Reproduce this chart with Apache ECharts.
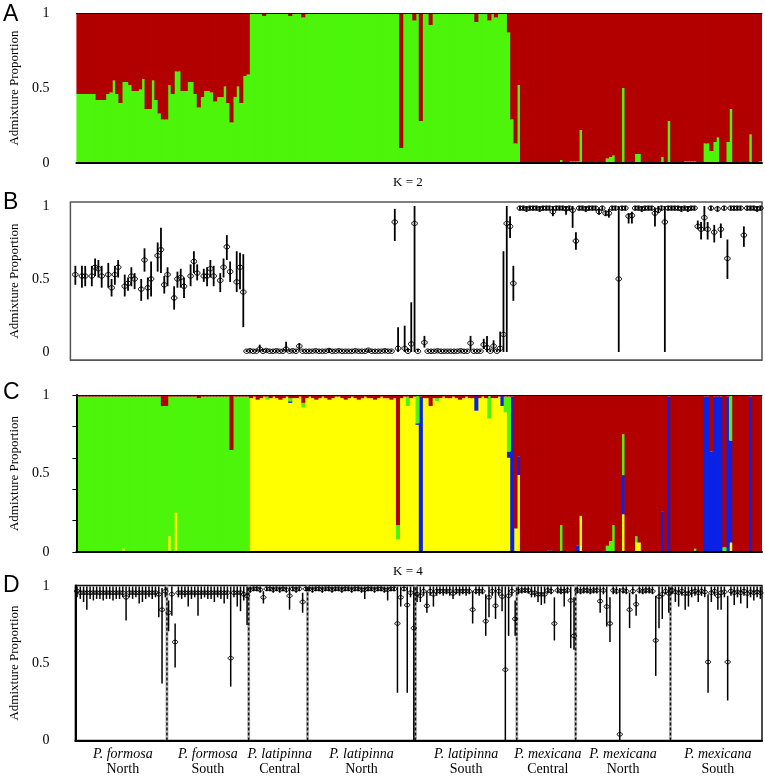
<!DOCTYPE html>
<html><head><meta charset="utf-8">
<script src="https://cdn.jsdelivr.net/npm/echarts@6/dist/echarts.min.js"></script>
<style>html,body{margin:0;padding:0;background:#fff}#c{width:765px;height:776px}</style>
</head><body><div id="c"></div>
<script>
// ---------- groups / labels ----------
const groupSpecies = ['P. formosa','P. formosa','P. latipinna','P. latipinna','P. latipinna','P. mexicana','P. mexicana','P. mexicana'];
const groupRegions = ['North','South','Central','North','South','Central','North','South'];
const groupSizes = [28,25,18,33,31,18,29,28];
const yTickLabels = [0, 0.5, 1];
const yTicksC = [0, 0.2, 0.4, 0.6, 0.8, 1];
const panelLetters = ['A','B','C','D'];
const kLabels = ['K = 2','K = 4'];
const yAxisTitle = 'Admixture Proportion';

// ---------- Panel A (K=2): green proportion per individual ----------
const aGreen = [
.46,.46,.46,.46,.46,.46,.42,.42,.42,.46,
.47,.55,.46,.40,.54,.54,.52,.48,.48,.49,
.56,.36,.36,.55,.42,.33,.29,.29,.52,.46,
.61,.61,.48,.48,.54,.54,.46,.37,.44,.48,
.48,.47,.41,.44,.44,.51,.40,.27,.44,.51,
.40,.58,.59,
1,1,1,1,.98,1,1,1,1,1,
1,1,.98,1,1,1,.97,1,1,1,
1,1,1,1,1,1,1,1,1,1,
1,1,1,1,1,1,1,1,1,1,
1,1,1,1,1,1,.10,1,1,1,
.95,1,.28,1,1,.92,1,1,1,1,
1,1,1,1,1,1,1,1,1,.94,
1,1,1,.95,1,.97,1,1,1,.87,
.29,.13,
.52,0,0,0,0,0,0,0,0,0,
0,0,0,.02,0,0,.01,.01,
.01,.22,0,0,0,0,0,0,0,.03,
.04,.05,0,0,.5,0,0,0,.06,.06,
0,0,0,0,0,0,.04,0,.28,
0,0,0,0,.01,.01,.01,.01,0,0,
.13,.13,.08,.14,.17,0,0,.14,.36,0,
0,0,0,0,.19,0,0,.01
];

// ---------- Panel B (K=2): point estimate and interval ----------
const bVal = [
null,.53,null,.52,.52,null,.52,.58,.57,.52,
null,.53,.44,.53,.58,null,.45,.47,.52,.50,
null,.43,.63,.44,.50,null,.66,.70,.46,.53,
null,.37,.50,.51,.45,null,.52,.62,.54,null,
.52,.52,.57,.52,null,.49,.58,.72,.55,null,
.48,.58,.41,
.005,.008,.005,.005,.02,.005,.01,.005,.005,.008,
.005,.005,.02,.005,.008,.005,.04,.005,.005,.005,
.005,.008,.005,.005,.005,.01,.005,.005,.008,.005,
.005,.005,.005,.008,.005,.005,.005,.012,.005,.005,
.005,.005,.008,.005,.005,.89,.025,null,.025,.005,
.055,.88,.005,null,.065,.005,.005,.005,.008,.005,
.005,.005,.005,.005,.005,.008,.005,.005,.06,.005,
.005,.005,.05,.03,.005,.04,.005,.025,.12,.88,
.86,.47,
null,.985,.985,.98,.985,.985,.985,.98,.985,.985,
.985,.96,.985,.985,.985,.98,.985,.97,.76,.985,
.985,.98,.985,.985,.985,.96,.985,.95,.95,.985,
.985,.50,.985,.985,.93,.935,.985,.985,.98,.985,
.985,.985,.95,.97,.985,.89,.985,.985,.985,.985,
.98,.985,.98,.985,.985,.86,.84,.92,.84,.985,
.82,.98,.84,.985,.64,.985,.985,.985,.985,.80,
.985,.985,.985,.98,.985
];
const bLow = [
null,.46,null,.44,.45,null,.45,.52,.51,.44,
null,.44,.38,.46,.51,null,.38,.42,.45,.43,
null,.35,.55,.36,.38,null,.55,.54,.40,.45,
null,.29,.44,.44,.37,null,.45,.54,.49,null,
.48,.45,.51,.45,null,.41,.51,.63,.48,null,
.41,.43,.17,
0,0,0,0,0,0,0,0,0,0,
0,0,0,0,0,0,.01,0,0,0,
0,0,0,0,0,0,0,0,0,0,
0,0,0,0,0,0,0,0,0,0,
0,0,0,0,0,.76,0,null,0,0,
0,0,0,null,.03,0,0,0,0,0,
0,0,0,0,0,0,0,0,.01,0,
0,0,.02,0,0,0,0,0,0,0,
.78,.35,
null,.97,.97,.96,.97,.97,.97,.96,.97,.97,
.97,.93,.97,.97,.97,.94,.97,.85,.70,.97,
.97,.96,.97,.97,.97,.94,.97,.93,.92,.97,
.97,0,.97,.97,.88,.88,.97,.97,.96,.97,
.97,.97,.86,.95,.97,0,.97,.97,.97,.97,
.96,.97,.96,.97,.97,.84,.77,.83,.77,.97,
.75,.96,.78,.97,.50,.97,.97,.97,.97,.72,
.97,.97,.97,.96,.97
];
const bHigh = [
null,.59,null,.59,.59,null,.59,.64,.63,.59,
null,.61,.50,.59,.63,null,.53,.51,.58,.54,
null,.50,.71,.51,.62,null,.75,.85,.52,.58,
null,.45,.55,.57,.51,null,.60,.69,.60,null,
.57,.58,.63,.59,null,.54,.64,.80,.62,null,
.69,.68,.67,
.015,.018,.015,.015,.05,.015,.02,.015,.015,.018,
.015,.015,.07,.015,.018,.015,.06,.015,.015,.015,
.015,.018,.015,.015,.015,.02,.015,.015,.018,.015,
.015,.015,.015,.018,.015,.015,.015,.022,.015,.015,
.015,.015,.018,.015,.015,.98,.17,null,.18,.025,
.34,1,.02,null,.11,.015,.015,.015,.018,.015,
.015,.015,.015,.015,.015,.018,.015,.015,.11,.015,
.015,.015,.09,.11,.015,.08,.015,.14,.69,1,
.93,.59,
null,1,1,1,1,1,1,1,1,1,
1,1,1,1,1,1,1,1,.82,1,
1,1,1,1,1,.98,1,.97,.98,1,
1,1,1,1,.95,.96,1,1,1,1,
1,1,.99,1,1,1,1,1,1,1,
1,1,1,1,1,.90,.89,1,.89,1,
.87,1,.88,1,.77,1,1,1,1,.86,
1,1,1,1,1
];

// ---------- Panel C (K=4): yellow, blue, green (red is the remainder) ----------
const cYellow = [
0,0,0,0,0,0,0,0,0,0,
0,0,0,0,.02,0,0,0,0,0,
0,0,0,0,0,0,0,0,.1,0,
.25,0,0,0,0,0,0,0,0,0,
0,0,0,0,0,0,0,0,0,0,
0,0,0,
.98,.99,.97,.98,.99,.97,.98,.99,.98,.97,
.98,.99,.95,.98,.98,.99,.92,.98,.99,.98,
.97,.98,.99,.98,.97,.98,.99,.99,.98,.97,
.98,.99,.98,.97,.98,.99,.98,.98,.97,.98,
.99,.98,.98,.97,.98,.08,.98,.99,.93,.98,
.99,.81,0,.98,.98,.93,.98,.96,.98,.99,
.98,.98,.99,.98,.97,.98,.99,.98,.98,.90,
.98,.99,.98,.85,.98,.98,.99,.93,.89,.60,
0,.15,
.49,0,0,0,0,0,0,0,0,0,
0,0,0,0,0,0,0,0,0,.23,
0,0,0,0,0,0,0,0,0,0,
0,0,.24,0,0,0,.06,.06,0,0,
0,0,0,0,0,0,0,0,0,0,
0,0,0,0,0,0,0,0,0,0,
0,0,0,0,0,.06,0,0,0,0,
0,0,0,0,0
];
const cBlue = [
0,0,0,0,0,0,0,0,0,0,
0,0,0,0,0,0,0,0,0,0,
0,0,0,0,0,0,0,0,0,0,
0,0,0,0,0,0,0,0,0,0,
0,0,0,0,0,0,0,0,0,0,
0,0,0,
0,0,0,0,0,0,0,0,0,0,
0,0,.01,0,0,0,0,0,0,0,
0,0,0,0,0,0,0,0,0,0,
0,0,0,0,0,0,0,0,0,0,
0,0,0,0,0,0,0,0,0,0,
0,.01,.99,0,0,0,0,0,0,0,
0,0,0,0,0,0,0,0,0,.10,
0,0,0,0,0,0,0,.07,0,.04,
.99,0,
.12,0,0,0,0,0,0,0,0,.01,
.01,0,0,0,0,0,0,0,.04,0,
0,0,0,0,0,0,0,0,0,0,
0,0,.25,0,0,0,0,0,0,0,
0,0,0,0,.26,0,.99,0,0,0,
0,0,0,0,0,0,0,.99,.99,.64,
.99,.99,.99,0,.99,.65,0,0,0,0,
0,.99,0,0,0
];
const cGreen = [
.99,.99,.99,.99,.99,.99,.99,.99,.99,.99,
.99,.99,.99,.99,.97,.99,.99,.99,.99,.99,
.99,.99,.99,.99,.99,.99,.93,.93,.89,.99,
.74,.99,.99,.99,.99,.99,.99,.98,.99,.99,
.99,.99,.99,.99,.99,.99,.99,.65,.99,.99,
.99,.99,.99,
0,0,0,0,0,.02,0,0,0,0,
0,0,.02,0,0,0,.03,0,0,0,
0,0,0,0,0,0,0,0,0,0,
0,0,0,0,0,0,0,0,0,0,
0,0,0,0,0,.09,0,0,.06,0,
0,.18,0,0,0,0,0,.02,0,0,
0,0,0,0,0,0,0,0,0,0,
0,0,0,.15,0,0,0,0,.10,.35,
0,0,
0,0,0,0,0,0,0,0,0,0,
0,0,0,.17,0,0,0,0,0,0,
0,0,0,0,0,0,0,.04,.07,.17,
0,0,.26,0,0,0,.04,0,0,0,
0,0,0,0,0,0,0,0,0,0,
0,0,0,0,.02,0,0,0,0,0,
0,0,0,.03,0,.29,0,0,0,0,
0,0,0,0,0
];

// ---------- Panel D (K=4): point estimate and interval ----------
const dVal = [
.97,.96,.96,.96,.96,.96,.96,.96,.96,.96,
.96,.96,.96,.96,.96,.93,.96,.96,.96,.96,
.96,.96,.96,.96,.96,.95,.85,.97,.83,.95,
.64,.96,.96,.96,.96,.96,.96,.96,.96,.96,
.96,.96,.96,.96,.96,.96,.96,.535,.96,.96,
.96,.95,.94,.98,.985,.985,.98,.93,.985,.985,
.98,.985,.98,.985,.98,.94,.985,.98,.985,.90,
.985,.985,.98,.985,.985,.98,.985,.985,.98,.985,
.985,.98,.985,.985,.98,.985,.985,.98,.98,.985,
.985,.98,.985,.985,.98,.98,.985,.985,.76,.93,
.985,.88,.96,.73,.95,.94,.97,.875,.97,.95,
.97,.97,.97,.97,.97,.955,.97,.97,.97,.97,
.97,.85,.97,.97,.97,.775,.93,.97,.875,.97,
.935,.46,.94,.97,.79,.97,.975,.975,.975,.96,
.96,.95,.95,.95,.975,.97,.76,.975,.97,.97,
.975,.91,.68,.975,.97,.975,.975,.97,.975,.975,
.905,.975,.87,.76,.975,.97,.04,.975,.97,.85,
.97,.885,.975,.97,.975,.975,.97,.65,.935,.95,
.97,.955,.975,.965,.96,.97,.955,.955,.965,.97,
.96,.97,.965,.51,.96,.97,.94,.96,.965,.51,
.97,.96,.965,.96,.97,.955,.965,.96,.965,.96
];
const dLow = [
.93,.92,.90,.85,.92,.91,.92,.92,.91,.92,
.92,.91,.92,.92,.93,.78,.93,.92,.93,.89,
.90,.92,.93,.92,.93,.80,.37,.93,.71,.81,
.475,.93,.92,.93,.87,.92,.93,.81,.92,.93,
.92,.92,.90,.93,.92,.89,.92,.35,.93,.87,
.84,.91,.75,.96,.97,.97,.96,.89,.97,.97,
.96,.97,.96,.97,.96,.85,.97,.96,.97,.83,
.97,.97,.96,.97,.97,.96,.97,.97,.96,.97,
.97,.96,.97,.97,.96,.97,.97,.96,.92,.97,
.97,.96,.97,.97,.96,.91,.97,.97,.31,.87,
.97,.31,.93,0,.90,.90,.94,.83,.94,.87,
.94,.95,.94,.95,.94,.92,.95,.94,.95,.94,
.95,.76,.95,.94,.95,.68,.80,.94,.79,.94,
.84,0,.68,.94,.68,.95,.955,.96,.955,.93,
.93,.90,.88,.89,.955,.95,.65,.955,.95,.87,
.955,.60,.59,.955,.95,.955,.955,.95,.955,.955,
.83,.95,.74,.64,.95,.95,0,.955,.95,.73,
.95,.81,.955,.95,.955,.955,.95,.42,.73,.79,
.95,.83,.95,.90,.87,.94,.85,.87,.93,.94,
.90,.94,.93,.31,.90,.94,.85,.85,.93,.26,
.94,.88,.93,.89,.94,.86,.93,.91,.93,.92
];
const dHigh = [
1,1,1,1,1,1,1,1,1,1,
1,1,1,1,1,1,1,1,1,1,
1,1,1,1,1,1,.99,1,.91,1,
.76,1,1,1,1,1,1,1,1,1,
1,1,1,1,1,1,1,1,1,1,
1,1,1,1,1,1,1,.97,1,1,
1,1,1,1,1,1,1,1,1,.96,
1,1,1,1,1,1,1,1,1,1,
1,1,1,1,1,1,1,1,1,1,
1,1,1,1,1,1,1,1,1,1,
1,1,1,1,1,1,1,.97,1,1,
1,1,1,1,1,1,1,1,1,1,
1,.97,1,1,1,.95,1,1,1,1,
1,1,1,1,.91,1,1,1,1,1,
1,1,1,1,1,1,.93,1,1,1,
1,1,.93,1,1,1,1,1,1,1,
1,1,1,.93,1,1,.99,1,1,.96,
1,.95,1,1,1,1,1,.94,1,1,
1,1,1,1,1,1,1,1,1,1,
1,1,1,.95,1,1,1,1,1,.94,
1,1,1,1,1,1,1,1,1,1
];

// ---------- derived structures ----------
const N = groupSizes.reduce((s, v) => s + v, 0);
const individuals = Array.from({length: N}, (_, i) => 'ind' + (i + 1));
const starts = []; let acc = 0;
groupSizes.forEach(s => { starts.push(acc); acc += s; });
const boundaries = starts.slice(1);
const labelAt = {};
starts.forEach((s, g) => { labelAt[s + Math.floor(groupSizes[g] / 2)] = g; });

const COL = {red: '#B20000', green: '#4CF50A', yellow: '#FFFF00', blue: '#0A22E6'};
const D_MAX = 1.007;
const nz = v => (v > 0 ? v : '-');
const aRed = aGreen.map(g => +(1 - g).toFixed(3));
const cRed = cYellow.map((y, i) => +Math.max(0, 1 - y - cBlue[i] - cGreen[i]).toFixed(3));

function barSeries(name, data, color, xi, yi, stack) {
  return {type: 'bar', name, stack, xAxisIndex: xi, yAxisIndex: yi, data: data.map(nz),
    barWidth: '125%', silent: true, itemStyle: {color}};
}
function errRender(rx, ry, lw) {
  return function (params, api) {
    const v = api.value(1);
    if (v == null || isNaN(v)) return null;
    const i = api.value(0);
    const p = api.coord([i, v]);
    const lo = api.coord([i, api.value(2)]);
    const hi = api.coord([i, api.value(3)]);
    return {type: 'group', children: [
      {type: 'line', shape: {x1: lo[0], y1: lo[1], x2: hi[0], y2: hi[1]}, style: {stroke: '#000', lineWidth: lw}},
      {type: 'ellipse', shape: {cx: p[0], cy: p[1], rx: rx, ry: ry}, style: {fill: 'rgba(0,0,0,0)', stroke: '#000', lineWidth: 1}}
    ]};
  };
}
const serif = 'Liberation Serif';
const labelStyle = {fontFamily: serif, fontSize: 14, color: '#000'};
const nameStyle = {fontFamily: serif, fontSize: 13, color: '#000'};

function xCat(gridIndex, lineColor, lineWidth, extraLabel, position) {
  return {type: 'category', gridIndex, data: individuals, boundaryGap: true, position: position || 'bottom',
    z: 10, axisTick: {show: false}, splitLine: {show: false},
    axisLine: {show: true, onZero: false, lineStyle: {color: lineColor, width: lineWidth}},
    axisLabel: extraLabel || {show: false}};
}
function yVal(gridIndex, min, max, gap, lineShow, ticks) {
  return {type: 'value', gridIndex, min, max, splitLine: {show: false}, z: 10,
    axisLine: {show: lineShow, onZero: false, lineStyle: {color: '#000', width: 2}},
    axisTick: ticks ? {show: true, customValues: ticks, length: 4, lineStyle: {color: '#000'}} : {show: false},
    axisLabel: {show: true, customValues: yTickLabels, margin: gap, ...labelStyle},
    name: yAxisTitle, nameLocation: 'middle', nameTextStyle: nameStyle};
}

const option = {
  animation: false,
  backgroundColor: '#fff',
  grid: [
    {left: 74, right: 3, top: 13, height: 150},
    {left: 68, right: 3, top: 202, height: 158, show: true, borderColor: '#555', borderWidth: 1.5},
    {left: 71, right: 3, top: 395, height: 157},
    {left: 70, right: 3, top: 585.5, height: 155.5, show: true, borderColor: '#111', borderWidth: 1.5}
  ],
  xAxis: [
    xCat(0, '#000', 2),
    xCat(1, '#555', 1),
    xCat(2, '#000', 2),
    xCat(3, '#000', 2, {
      show: true, margin: 6,
      interval: (idx) => labelAt.hasOwnProperty(idx),
      formatter: (val, idx) => {
        const g = labelAt[idx];
        return g === undefined ? '' : '{i|' + groupSpecies[g] + '}\n{n|' + groupRegions[g] + '}';
      },
      rich: {
        i: {fontFamily: serif, fontStyle: 'italic', fontSize: 14, lineHeight: 15, color: '#000'},
        n: {fontFamily: serif, fontSize: 14, lineHeight: 15, color: '#000'}
      }
    }),
    {type: 'value', gridIndex: 3, min: 0, max: N, show: false},
    xCat(0, '#2a0000', 1, null, 'top'),
    xCat(2, '#2a0000', 1, null, 'top')
  ],
  yAxis: [
    Object.assign(yVal(0, 0, 1, 27, false, null), {nameGap: 54}),
    Object.assign(yVal(1, -0.055, 1.027, 21, false, null), {nameGap: 48}),
    Object.assign(yVal(2, 0, 1, 27, true, yTicksC), {nameGap: 51}),
    Object.assign(yVal(3, 0, D_MAX, 26, true, null), {nameGap: 50})
  ],
  series: [
    barSeries('A green', aGreen, COL.green, 0, 0, 'a'),
    barSeries('A red', aRed, COL.red, 0, 0, 'a'),
    {type: 'custom', xAxisIndex: 1, yAxisIndex: 1, silent: true,
      renderItem: errRender(2.8, 2.2, 1.8),
      data: individuals.map((_, i) => [i, bVal[i], bLow[i], bHigh[i]])},
    barSeries('C yellow', cYellow, COL.yellow, 2, 2, 'c'),
    barSeries('C blue', cBlue, COL.blue, 2, 2, 'c'),
    barSeries('C green', cGreen, COL.green, 2, 2, 'c'),
    barSeries('C red', cRed, COL.red, 2, 2, 'c'),
    {type: 'custom', xAxisIndex: 4, yAxisIndex: 3, silent: true, clip: false,
      renderItem: function (params, api) {
        const b = api.value(0);
        const p0 = api.coord([b, 0]), p1 = api.coord([b, D_MAX]);
        return {type: 'group', children: [
          {type: 'line', shape: {x1: p0[0], y1: p0[1], x2: p1[0], y2: p1[1]}, style: {stroke: '#bbb', lineWidth: 3}},
          {type: 'line', shape: {x1: p0[0], y1: p0[1], x2: p1[0], y2: p1[1]}, style: {stroke: '#111', lineWidth: 1.5, lineDash: [3, 2]}}
        ]};
      },
      data: boundaries.map(b => [b, 0])},
    {type: 'custom', xAxisIndex: 3, yAxisIndex: 3, silent: true,
      renderItem: errRender(2.6, 1.8, 1.5),
      data: individuals.map((_, i) => [i, dVal[i], dLow[i], dHigh[i]])}
  ],
  graphic: [
    {type: 'text', left: 3, top: 3, style: {text: panelLetters[0], fontFamily: 'Liberation Sans', fontSize: 23, fill: '#000'}},
    {type: 'text', left: 3, top: 191, style: {text: panelLetters[1], fontFamily: 'Liberation Sans', fontSize: 23, fill: '#000'}},
    {type: 'text', left: 3, top: 381, style: {text: panelLetters[2], fontFamily: 'Liberation Sans', fontSize: 23, fill: '#000'}},
    {type: 'text', left: 3, top: 574, style: {text: panelLetters[3], fontFamily: 'Liberation Sans', fontSize: 23, fill: '#000'}},
    {type: 'text', left: 393, top: 176, style: {text: kLabels[0], fontFamily: serif, fontSize: 13, fill: '#000'}},
    {type: 'text', left: 393, top: 565, style: {text: kLabels[1], fontFamily: serif, fontSize: 13, fill: '#000'}}
  ]
};
const chart = echarts.init(document.getElementById('c'), null, {renderer: 'canvas'});
chart.setOption(option);
</script>
</body></html>
